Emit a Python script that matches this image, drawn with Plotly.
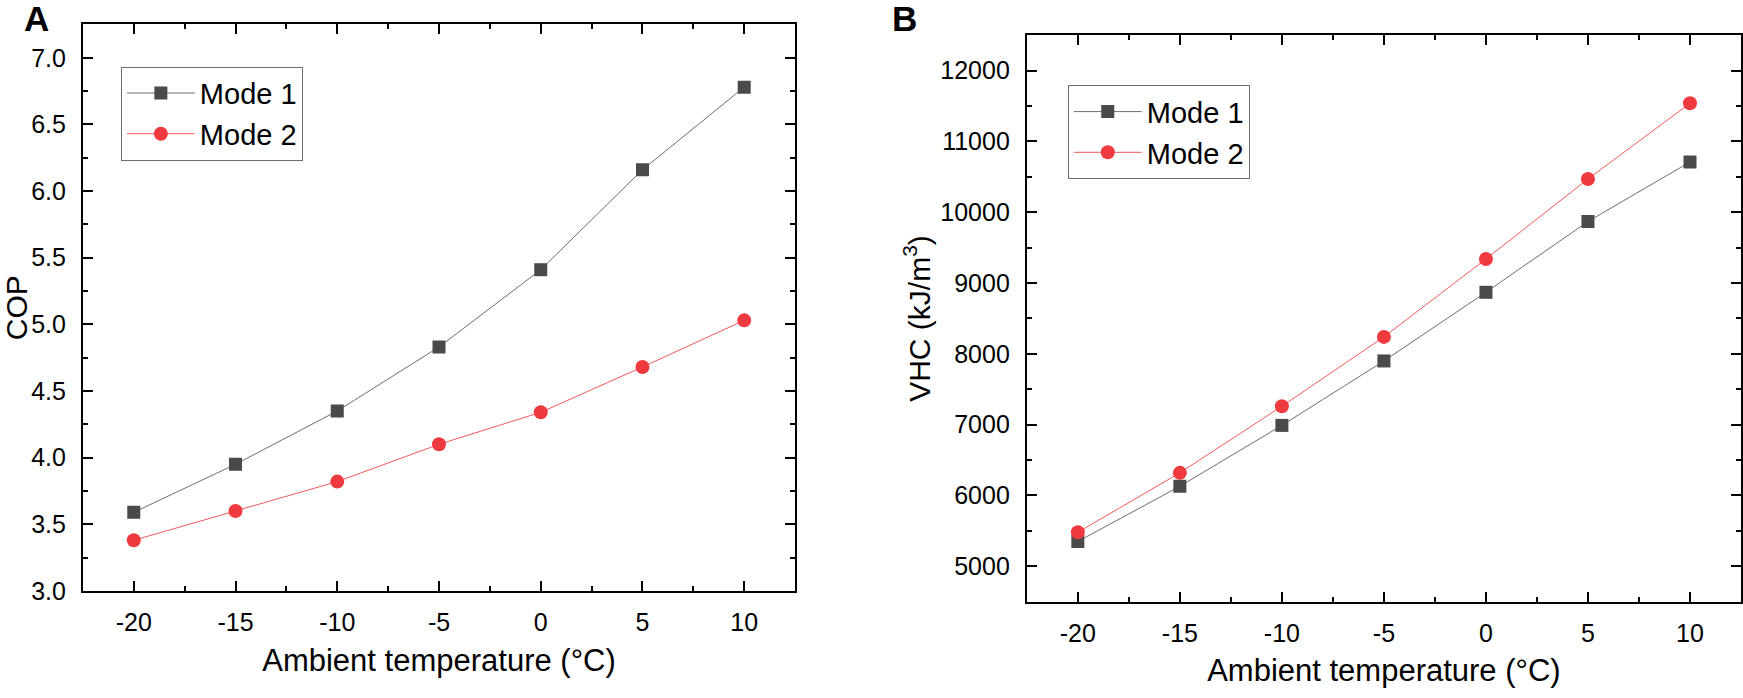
import plotly.graph_objects as go

temps = [-20, -15, -10, -5, 0, 5, 10]
temp_ticktext = ["-20", "-15", "-10", "-5", "0", "5", "10"]
cop_mode1 = [3.59, 3.95, 4.35, 4.83, 5.41, 6.16, 6.78]
cop_mode2 = [3.38, 3.60, 3.82, 4.10, 4.34, 4.68, 5.03]
vhc_mode1 = [5350, 6130, 6990, 7900, 8870, 9870, 10710]
vhc_mode2 = [5480, 6320, 7260, 8240, 9340, 10470, 11540]
series_names = ["Mode 1", "Mode 2"]

W, H = 1743, 698
FONT = "Liberation Sans, Arial, sans-serif"
GRAY_M = "#4a4a4a"
GRAY_L = "#6e6e6e"
RED_M = "#ef3b3f"
RED_L = "#f25a5a"

fig = go.Figure()

def add_pair(y1, y2, xa, ya, leg):
    fig.add_trace(go.Scatter(x=temps, y=y1, name=series_names[0], mode="lines+markers",
                             line=dict(color=GRAY_L, width=1),
                             marker=dict(symbol="square", size=13, color=GRAY_M),
                             xaxis=xa, yaxis=ya, legend=leg))
    fig.add_trace(go.Scatter(x=temps, y=y2, name=series_names[1], mode="lines+markers",
                             line=dict(color=RED_L, width=1),
                             marker=dict(symbol="circle", size=14, color=RED_M),
                             xaxis=xa, yaxis=ya, legend=leg))

add_pair(cop_mode1, cop_mode2, "x", "y", "legend")
add_pair(vhc_mode1, vhc_mode2, "x2", "y2", "legend2")

def xaxis_style(domain, anchor):
    return dict(domain=domain, anchor=anchor, range=[-22.5, 12.5],
                tickmode="array", tickvals=temps, ticktext=temp_ticktext,
                ticks="inside", ticklen=10, tickwidth=2, tickcolor="black",
                minor=dict(ticks="inside", ticklen=5, tickwidth=2, dtick=2.5, tick0=-20, tickcolor="black"),
                showline=True, linewidth=2, linecolor="black", mirror="allticks",
                showgrid=False, zeroline=False,
                tickfont=dict(family=FONT, size=25, color="black"),
                ticklabelstandoff=8,
                title=dict(text="Ambient temperature (°C)", font=dict(family=FONT, size=31, color="black"),
                           standoff=14))

def yaxis_style(domain, anchor, rng, t0, dtick, mdtick, fmt, title, standoff):
    return dict(domain=domain, anchor=anchor, range=rng,
                tickmode="linear", tick0=t0, dtick=dtick,
                ticks="inside", ticklen=10, tickwidth=2, tickcolor="black",
                minor=dict(ticks="inside", ticklen=5, tickwidth=2, dtick=mdtick, tick0=t0, tickcolor="black"),
                showline=True, linewidth=2, linecolor="black", mirror="allticks",
                showgrid=False, zeroline=False, tickformat=fmt,
                tickfont=dict(family=FONT, size=25, color="black"),
                ticklabelstandoff=10,
                title=dict(text=title, font=dict(family=FONT, size=30, color="black"),
                           standoff=standoff))

xa_dom = [81 / W, 794 / W]
ya_dom = [1 - 603 / H, 1 - 25 / H]
xb_dom = [1026 / W, 1741 / W]
yb_dom = [1 - 614 / H, 1 - 36 / H]

legend_common = dict(bgcolor="white", bordercolor="#6e6e6e", borderwidth=1,
                     font=dict(family=FONT, size=29, color="black"),
                     xanchor="left", yanchor="top", traceorder="normal",
                     itemwidth=68, tracegroupgap=0)

fig.update_layout(
    width=W, height=H,
    margin=dict(l=0, r=0, t=0, b=0),
    paper_bgcolor="white", plot_bgcolor="white",
    font=dict(family=FONT, color="black"),
    xaxis=xaxis_style(xa_dom, "y"),
    yaxis=yaxis_style(ya_dom, "x", [3.0, 7.25], 3.0, 0.5, 0.25, ".1f", "COP", 10),
    xaxis2=xaxis_style(xb_dom, "y2"),
    yaxis2=yaxis_style(yb_dom, "x2", [4500, 12500], 5000, 1000, 500, "d", "VHC (kJ/m<sup>3</sup>)", 1),
    legend=dict(x=119 / W, y=1 - 68 / H, **legend_common),
    legend2=dict(x=1067 / W, y=1 - 87 / H, **legend_common),
    showlegend=True,
    annotations=[
        dict(text="<b>A</b>", x=20 / W, y=1 + 3 / H, xref="paper", yref="paper",
             xanchor="left", yanchor="top", showarrow=False,
             font=dict(family=FONT, size=35, color="black")),
        dict(text="<b>B</b>", x=889 / W, y=1 + 3 / H, xref="paper", yref="paper",
             xanchor="left", yanchor="top", showarrow=False,
             font=dict(family=FONT, size=35, color="black")),
    ],
)

fig.write_html("out.html", config={"displayModeBar": False},
               post_script="document.body.style.margin='0';document.body.style.overflow='hidden';")
